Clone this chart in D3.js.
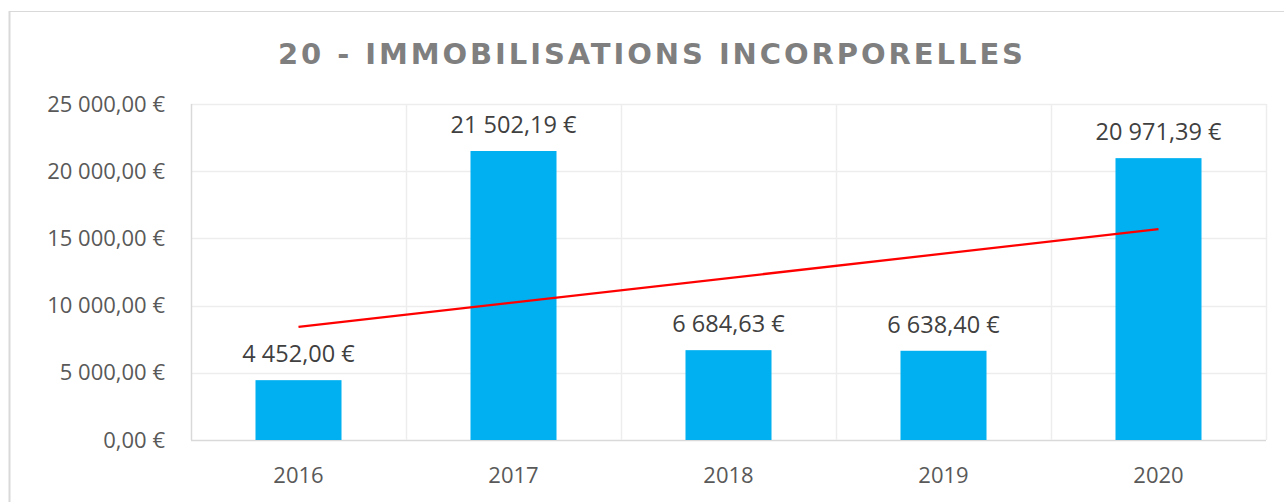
<!DOCTYPE html>
<html lang="fr">
<head>
    <meta charset="UTF-8">
    <title>20 - Immobilisations incorporelles</title>
    <style>
        body { margin: 0; background: #fff; }
        text { font-family: "Open Sans", sans-serif; }
    </style>
</head>
<body>
<div id="chart"></div>

<script src="https://d3js.org/d3.v7.min.js"></script>

<script>
    // Data
    var years = ["2016", "2017", "2018", "2019", "2020"];
    var amounts = [4452.00, 21502.19, 6684.63, 6638.40, 20971.39];
    var yTicks = [0, 5000, 10000, 15000, 20000, 25000];
    var title = "20 - IMMOBILISATIONS INCORPORELLES";

    var W = 1284, H = 502;
    var margin = {top: 104, right: 18, bottom: 62, left: 191};
    var w = W - margin.left - margin.right;
    var h = H - margin.top - margin.bottom;

    var svg = d3.select("#chart").append("svg")
        .attr("width", W)
        .attr("height", H);

    // outer chart frame (only top and left visible)
    svg.append("line").attr("x1", 9).attr("x2", W).attr("y1", 11.5).attr("y2", 11.5)
        .attr("stroke", "#d9d9d9").attr("stroke-width", 1);
    svg.append("line").attr("x1", 9.5).attr("x2", 9.5).attr("y1", 11).attr("y2", H)
        .attr("stroke", "#d9d9d9").attr("stroke-width", 2);

    // title
    svg.append("text")
        .attr("x", 278)
        .attr("y", 64)
        .attr("textLength", 745)
        .attr("lengthAdjust", "spacing")
        .style("font-family", "'DejaVu Sans', sans-serif")
        .style("font-weight", "bold")
        .style("font-size", "29px")
        .attr("fill", "#7f7f7f")
        .text(title);

    var g = svg.append("g")
        .attr("transform", "translate(" + margin.left + "," + margin.top + ")");

    var x = d3.scaleBand().domain(years).range([0, w]).padding(0);
    var y = d3.scaleLinear().domain([0, 25000]).range([h, 0]);

    var fmt = function (v) {
        var s = v.toFixed(2).split(".");
        var intPart = s[0].replace(/\B(?=(\d{3})+(?!\d))/g, " ");
        return intPart + "," + s[1] + " €";
    };

    // horizontal gridlines
    g.append("g").selectAll("line").data(yTicks).join("line")
        .attr("x1", 0).attr("x2", w)
        .attr("y1", d => Math.round(y(d)) + 0.5).attr("y2", d => Math.round(y(d)) + 0.5)
        .attr("stroke", d => d === 0 ? "#d9d9d9" : "#ededed")
        .attr("stroke-width", 1.5);

    // vertical gridlines at category boundaries
    var bounds = years.map(d => x(d)).concat([w]);
    g.append("g").selectAll("line").data(bounds).join("line")
        .attr("x1", d => Math.round(d) + 0.5).attr("x2", d => Math.round(d) + 0.5)
        .attr("y1", 0).attr("y2", h)
        .attr("stroke", (d, i) => i === 0 ? "#d9d9d9" : "#ededed")
        .attr("stroke-width", 1.5);

    // y axis labels
    var yAxis = d3.axisLeft(y).tickValues(yTicks).tickSize(0).tickPadding(26).tickFormat(fmt);
    var ya = g.append("g").call(yAxis);
    ya.select(".domain").remove();
    ya.selectAll("text").style("font-size", "22px").attr("fill", "#595959")
        .style("font-family", "'Open Sans', sans-serif");

    // x axis labels
    var xAxis = d3.axisBottom(x).tickSize(0).tickPadding(27);
    var xa = g.append("g").attr("transform", "translate(0," + h + ")").call(xAxis);
    xa.select(".domain").remove();
    xa.selectAll("text").style("font-size", "22px").attr("fill", "#595959")
        .style("font-family", "'Open Sans', sans-serif");

    // bars
    var barW = x.bandwidth() * 0.4;
    g.selectAll("rect.bar").data(amounts).join("rect")
        .attr("class", "bar")
        .attr("x", (d, i) => x(years[i]) + (x.bandwidth() - barW) / 2)
        .attr("y", d => y(d))
        .attr("width", barW)
        .attr("height", d => h - y(d))
        .attr("fill", "#00b0f0");

    // value labels
    g.selectAll("text.val").data(amounts).join("text")
        .attr("class", "val")
        .attr("x", (d, i) => x(years[i]) + x.bandwidth() / 2)
        .attr("y", d => y(d) - 18)
        .attr("text-anchor", "middle")
        .style("font-size", "23.5px")
        .attr("fill", "#404040")
        .text(fmt);

    // linear trend line (least squares, like the spreadsheet trendline)
    var n = amounts.length;
    var xs = d3.range(1, n + 1);
    var mx = d3.mean(xs), my = d3.mean(amounts);
    var slope = d3.sum(xs, (v, i) => (v - mx) * (amounts[i] - my)) / d3.sum(xs, v => (v - mx) * (v - mx));
    var icpt = my - slope * mx;
    var trend = [1, n].map(k => ({cat: years[k - 1], val: icpt + slope * k}));

    g.append("path")
        .datum(trend)
        .attr("fill", "none")
        .attr("stroke", "#ff0000")
        .attr("stroke-width", 2.25)
        .attr("d", d3.line()
            .x(d => x(d.cat) + x.bandwidth() / 2)
            .y(d => y(d.val)));
</script>
</body>
</html>
